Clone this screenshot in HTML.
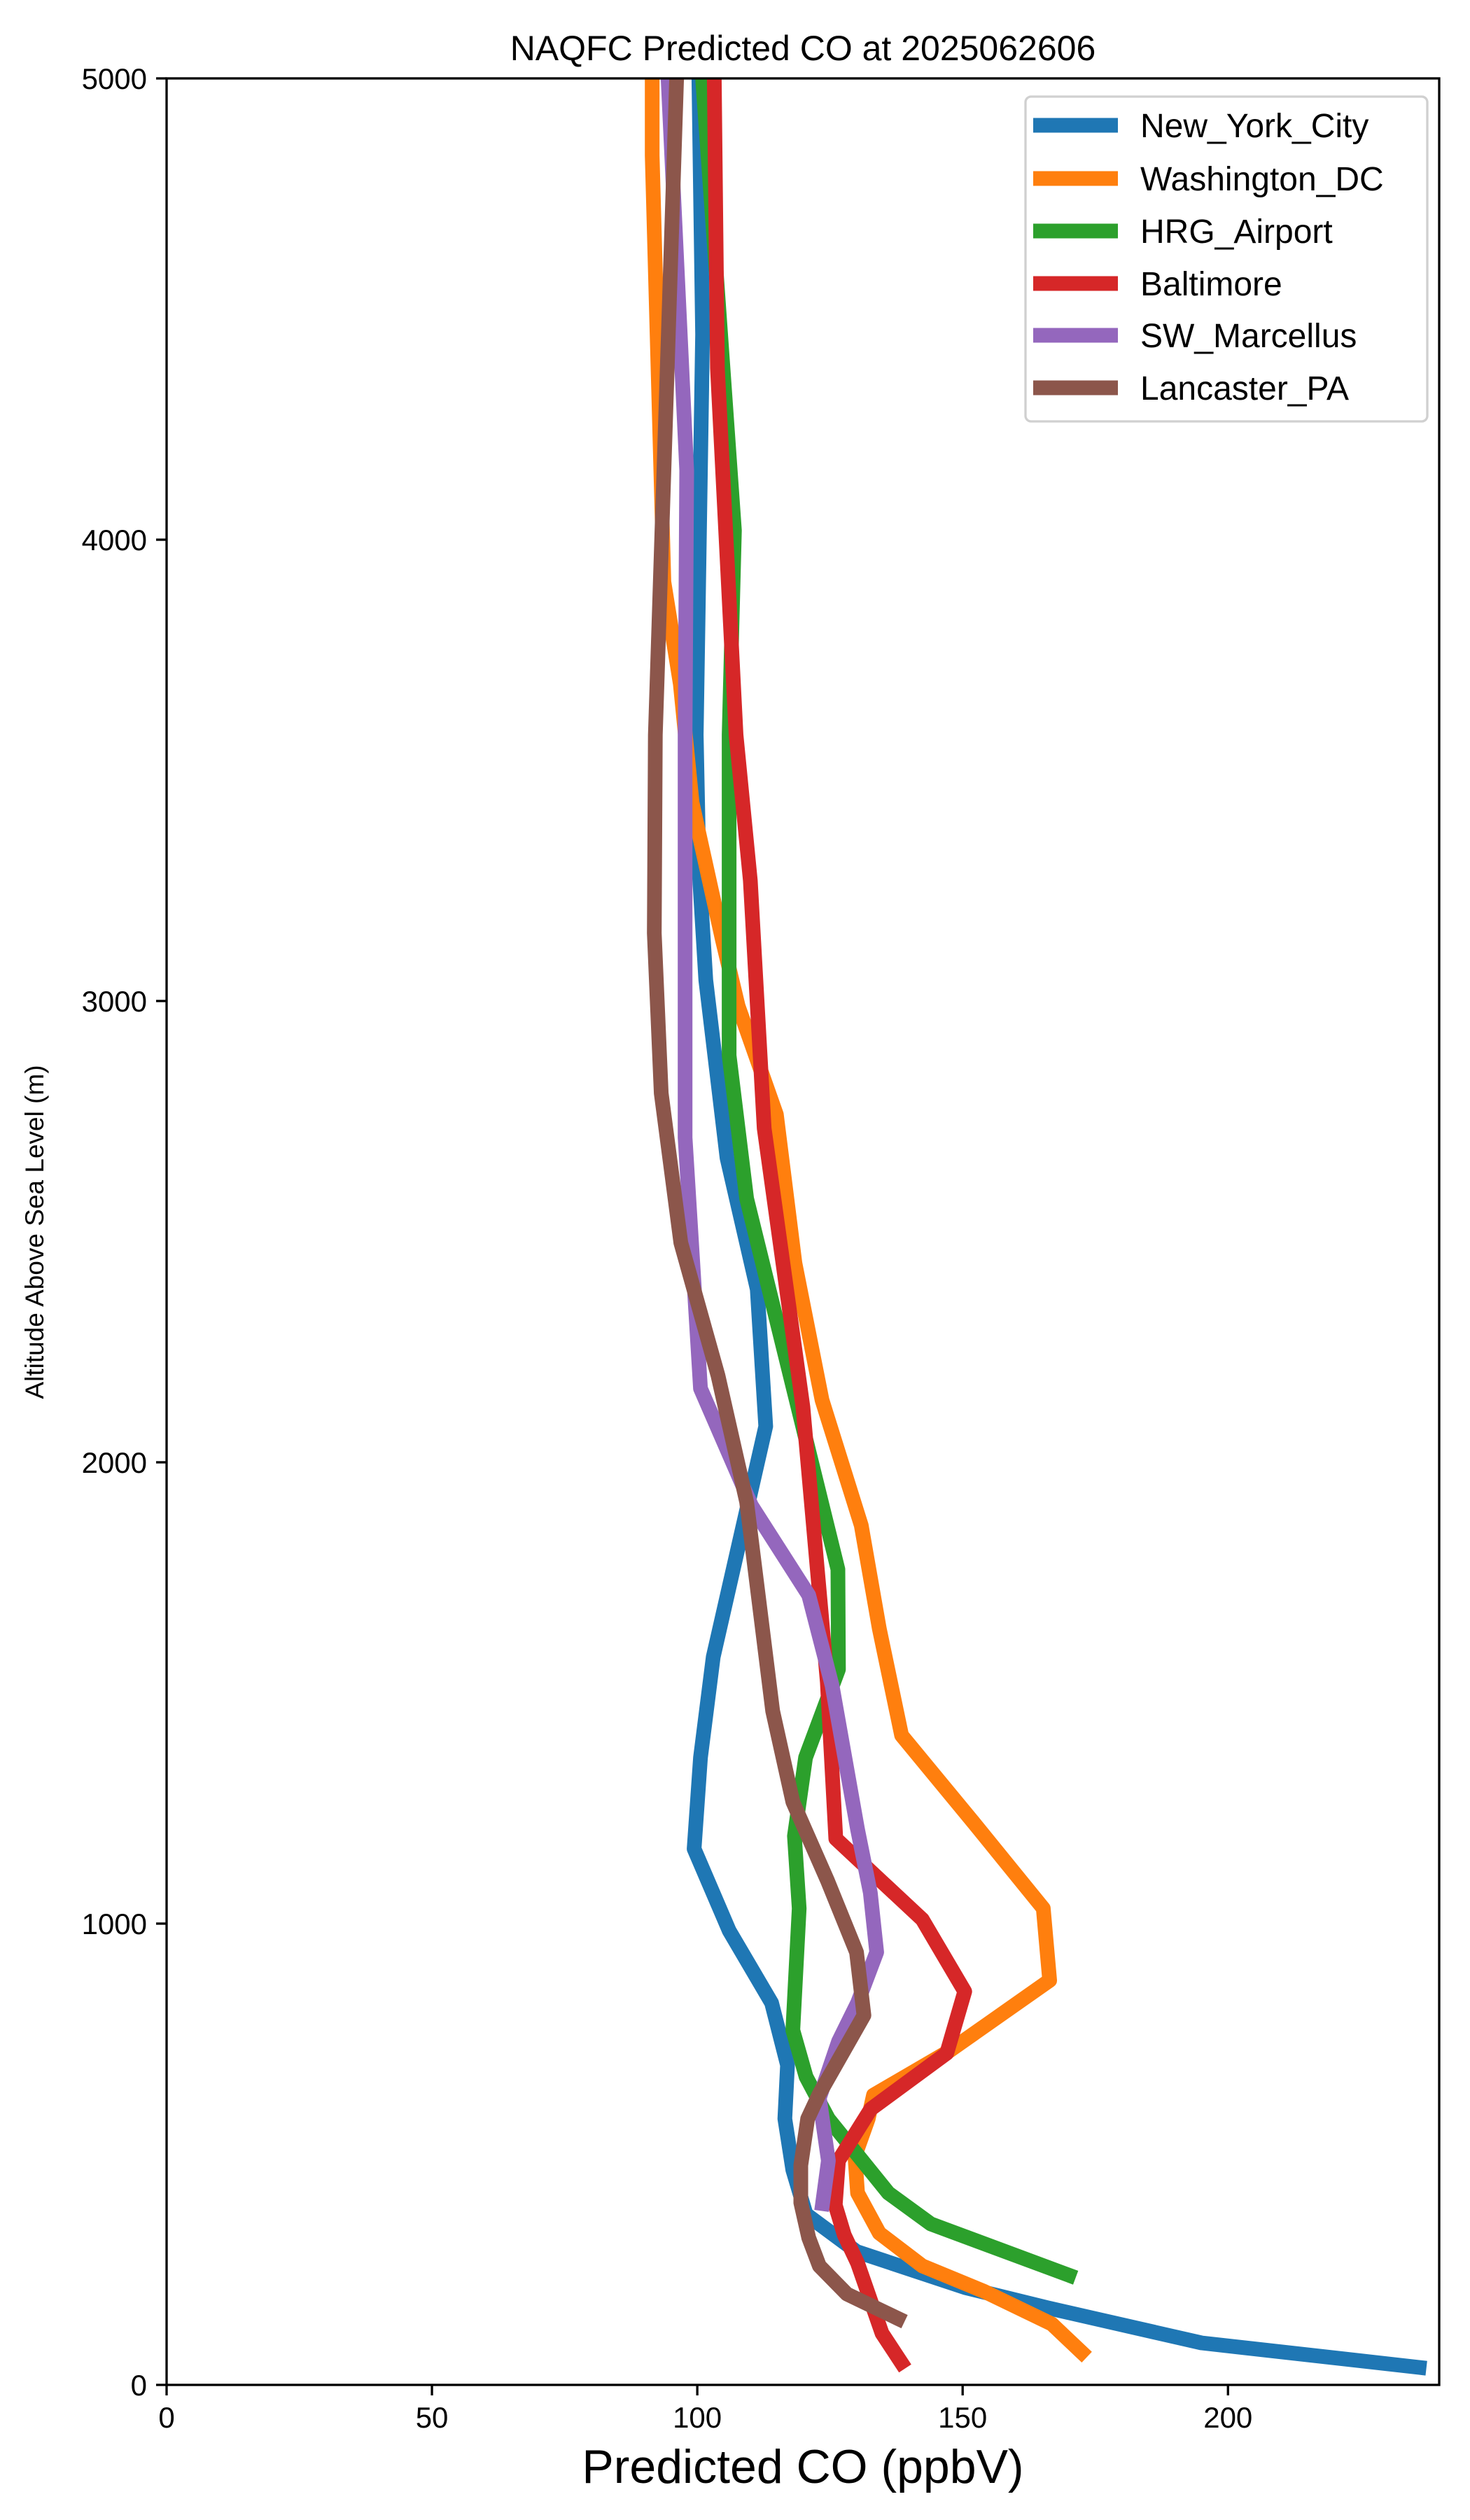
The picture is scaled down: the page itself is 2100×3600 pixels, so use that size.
<!DOCTYPE html>
<html><head><meta charset="utf-8"><style>
html,body{margin:0;padding:0;background:#fff;}
svg{display:block;font-family:"Liberation Sans",sans-serif;}
</style></head><body>
<svg id="chart" width="2100" height="3600" viewBox="0 0 2100 3600" xmlns="http://www.w3.org/2000/svg">
<rect x="0" y="0" width="2100" height="3600" fill="#fff"/>
<defs><clipPath id="plotclip"><rect x="238" y="112" width="1818" height="3295"/></clipPath></defs>
<text x="1147" y="86" font-size="50" text-anchor="middle">NAQFC Predicted CO at 2025062606</text>
<g id="series" clip-path="url(#plotclip)"></g>
<g id="axes"></g>
<text x="1147" y="3547" font-size="68" text-anchor="middle">Predicted CO (ppbV)</text>
<text x="0" y="0" font-size="37" text-anchor="middle" transform="translate(62,1760) rotate(-90)">Altitude Above Sea Level (m)</text>
<g id="legend"></g>
</svg>
<script>
const seriesNames = ["New_York_City","Washington_DC","HRG_Airport","Baltimore","SW_Marcellus","Lancaster_PA"];
const seriesColors = ["#1f77b4","#ff7f0e","#2ca02c","#d62728","#9467bd","#8c564b"];
const nycAlt = [38,91,167,211,289,370,466,577,693,828,985,1162,1360,1578,2078,2375,2660,3045,3293,3577,4445,5000];
const nycCO = [236,195,166,150.5,130,120.5,118,116.5,117,114,106,99.4,100.6,103,112.9,111.3,105.6,101.6,100.3,99.8,101,100.3];
const dcAlt = [71,132,203,258,329,416,496,577,628,724,877,1033,1217,1408,1639,1863,2135,2432,2754,2989,3134,3431,3687,3909,4833,5000];
const dcCO = [172.4,166.8,154,142.4,134.3,130.2,129.7,132.2,133.2,147.5,166.4,165.2,152.2,138.5,134.3,130.9,123.5,118.4,114.9,107.7,104.7,99,96.8,93.7,91.5,91.5];
const hrgAlt = [238,349,416,577,668,769,1033,1190,1360,1551,1768,2572,2882,3577,4020,5000];
const hrgCO = [170,144,136,124.7,120.5,118,119.2,118.3,120.4,126.6,126.5,109.3,106,106,107,101];
const balAlt = [49,112,264,325,390,486,598,719,853,1009,1184,1523,2120,2724,3261,3577,4372,5000];
const balCO = [138.4,134.8,130.2,127.7,126,126.6,132.7,147,150.4,142.4,126.1,124.5,119.9,112.6,110,107.3,103.8,103.2];
const swmAlt = [393,486,622,744,828,938,1067,1204,1516,1712,1906,2160,2704,3577,4150,5000];
const swmCO = [123.6,124.7,123,126.6,130.2,133.8,132.6,130.2,125.4,121,110.2,100.6,97.7,97.7,98,94.5];
const lanAlt = [144,197,258,319,395,476,577,631,801,938,1094,1264,1461,1914,2188,2476,2800,3147,3577,5000];
const lanCO = [137.8,128.2,123,121,119.5,119.5,120.8,123,131.4,130,124.5,118,114.2,109.3,103.9,96.9,93.2,91.9,92.1,96.1];
const xTicks = [0,50,100,150,200];
const yTicks = [0,1000,2000,3000,4000,5000];

const NS="http://www.w3.org/2000/svg";
const L=238,R=2056,T=112,B=3407,XMAX=239.8,YMAX=5000;
function xs(v){return L+v*(R-L)/XMAX;}
function ys(a){return B-a*(B-T)/YMAX;}
function mk(tag,attrs,parent){const e=document.createElementNS(NS,tag);for(const k in attrs)e.setAttribute(k,attrs[k]);parent.appendChild(e);return e;}

const allAlt=[nycAlt,dcAlt,hrgAlt,balAlt,swmAlt,lanAlt];
const allCO=[nycCO,dcCO,hrgCO,balCO,swmCO,lanCO];
const sg=document.getElementById('series');
for(let s=0;s<6;s++){
  const pts=allAlt[s].map((a,i)=>xs(allCO[s][i]).toFixed(1)+","+ys(a).toFixed(1)).join(" ");
  const pl=mk('polyline',{points:pts,fill:"none",stroke:seriesColors[s],"stroke-width":"21","stroke-linejoin":"round","stroke-linecap":"square"},sg);
  
  
}

const ax=document.getElementById('axes');
const frame=mk('rect',{x:L,y:T,width:R-L,height:B-T,fill:"none",stroke:"#000","stroke-width":"3.3"},ax);


xTicks.forEach(v=>{
  const x=xs(v);
  const tk=mk('line',{x1:x,y1:B,x2:x,y2:B+15,stroke:"#000","stroke-width":"3.3"},ax);
  
  
  const t=mk('text',{x:x,y:B+61,"font-size":"42","text-anchor":"middle"},ax);
  t.textContent=v;
  
  
});
yTicks.forEach(v=>{
  const y=ys(v);
  const tk=mk('line',{x1:L-15,y1:y,x2:L,y2:y,stroke:"#000","stroke-width":"3.3"},ax);
  
  
  const t=mk('text',{x:L-28,y:y+15,"font-size":"42","text-anchor":"end"},ax);
  t.textContent=v;
  
  
});

const lg=document.getElementById('legend');
const box=mk('rect',{x:1465,y:138,width:574,height:464,rx:8,fill:"#fff","fill-opacity":"0.8",stroke:"#d0d0d0","stroke-width":"3.3"},lg);


const rowY=[179,255,330,405,479,554];
for(let s=0;s<6;s++){
  const g=mk('g',{},lg);
  
  
  const h=mk('line',{x1:1476,y1:rowY[s],x2:1597,y2:rowY[s],stroke:seriesColors[s],"stroke-width":"21"},g);
  
  
  const t=mk('text',{x:1629,y:rowY[s]+17,"font-size":"48"},g);
  t.textContent=seriesNames[s];
  
  
}
</script>
</body></html>
